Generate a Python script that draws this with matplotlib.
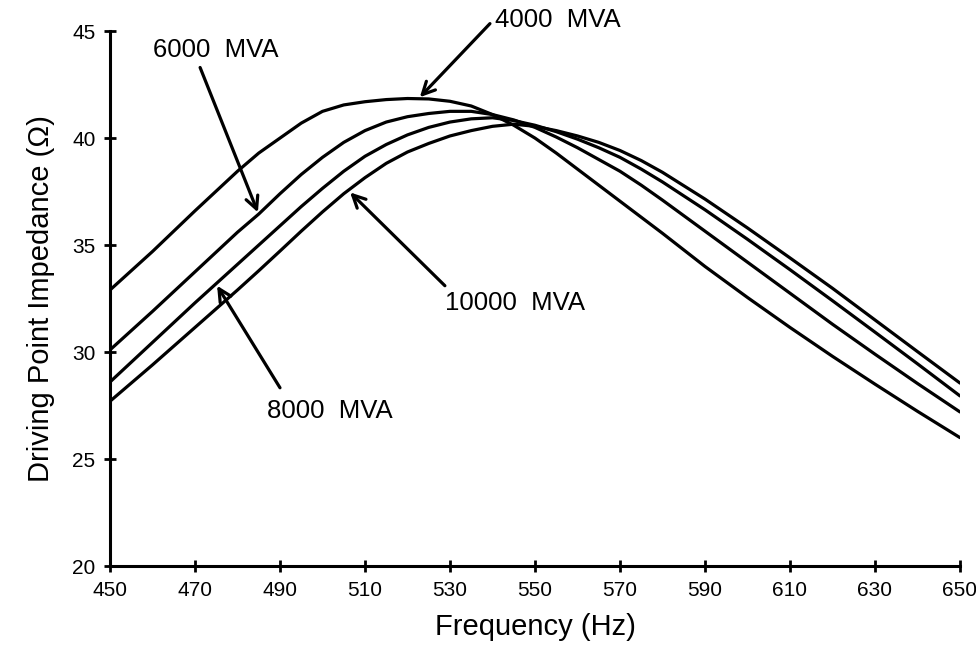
import matplotlib
matplotlib.use("Agg")
import matplotlib.pyplot as plt

plt.rcParams["font.family"] = ["Liberation Sans", "DejaVu Sans"]

freq = [450, 460, 470, 480, 485, 490, 495, 500, 505, 510, 515, 520, 525, 530,
        535, 540, 545, 550, 555, 560, 565, 570, 575, 580, 590, 600, 610, 620,
        630, 640, 650]

mva_4000 = [32.9, 34.7, 36.6, 38.45, 39.3, 40.0, 40.7, 41.25, 41.55, 41.7, 41.8,
            41.85, 41.83, 41.72, 41.5, 41.1, 40.6, 40.0, 39.3, 38.55, 37.8,
            37.05, 36.3, 35.55, 34.0, 32.55, 31.15, 29.8, 28.5, 27.23, 26.0]

mva_6000 = [30.1, 31.9, 33.75, 35.6, 36.45, 37.4, 38.3, 39.1, 39.8, 40.35, 40.75,
            41.0, 41.15, 41.25, 41.25, 41.1, 40.85, 40.5, 40.05, 39.55, 39.0,
            38.45, 37.8, 37.1, 35.65, 34.2, 32.75, 31.3, 29.9, 28.53, 27.2]

mva_8000 = [28.6, 30.45, 32.3, 34.1, 35.0, 35.9, 36.8, 37.65, 38.45, 39.15, 39.7,
            40.15, 40.5, 40.75, 40.9, 40.95, 40.82, 40.6, 40.3, 39.95, 39.55,
            39.1, 38.55, 37.95, 36.65, 35.27, 33.85, 32.4, 30.93, 29.45, 27.95]

mva_10000 = [27.7, 29.4, 31.15, 32.9, 33.8, 34.72, 35.65, 36.55, 37.4, 38.15,
             38.82, 39.35, 39.75, 40.1, 40.35, 40.55, 40.65, 40.55, 40.35, 40.1,
             39.8, 39.42, 38.95, 38.4, 37.15, 35.8, 34.4, 32.98, 31.5, 30.02, 28.55]

x_ticks = list(range(450, 651, 20))
y_ticks = [20, 25, 30, 35, 40, 45]

fig = plt.figure(figsize=(9.76, 6.62), dpi=100)
ax = fig.add_axes([0.1127, 0.1450, 0.8709, 0.8080])

for series in (mva_4000, mva_6000, mva_8000, mva_10000):
    ax.plot(freq, series, color="black", linewidth=2.3, solid_capstyle="round")

ax.set_xlim(450, 650)
ax.set_ylim(20, 45)
ax.set_xticks(x_ticks)
ax.set_yticks(y_ticks)
ax.tick_params(direction="inout", length=9, width=2, labelsize=15, pad=6)

for side in ("top", "right"):
    ax.spines[side].set_visible(False)
for side in ("left", "bottom"):
    ax.spines[side].set_linewidth(2.2)

ax.set_xlabel("Frequency (Hz)", fontsize=21, labelpad=10)
ax.set_ylabel("Driving Point Impedance (Ω)", fontsize=21, labelpad=12)

arrow = dict(arrowstyle="->,head_length=0.9,head_width=0.45", color="black",
             lw=2.3, shrinkA=0, shrinkB=0)

labels = [
    ("4000  MVA", (540.5, 45.5), (539.4, 45.35), (522.9, 41.91)),
    ("6000  MVA", (460.1, 44.1), (471.2, 43.3), (484.8, 36.53)),
    ("10000  MVA", (528.8, 32.3), (528.8, 33.1), (506.5, 37.46)),
    ("8000  MVA", (486.9, 27.26), (490.0, 28.33), (475.2, 33.1)),
]
for text, text_pos, tail, tip in labels:
    ax.annotate("", xy=tip, xytext=tail, arrowprops=arrow, annotation_clip=False)
    ax.text(text_pos[0], text_pos[1], text, fontsize=18.5, ha="left", va="center",
            clip_on=False)

fig.savefig("out.png", dpi=100)
